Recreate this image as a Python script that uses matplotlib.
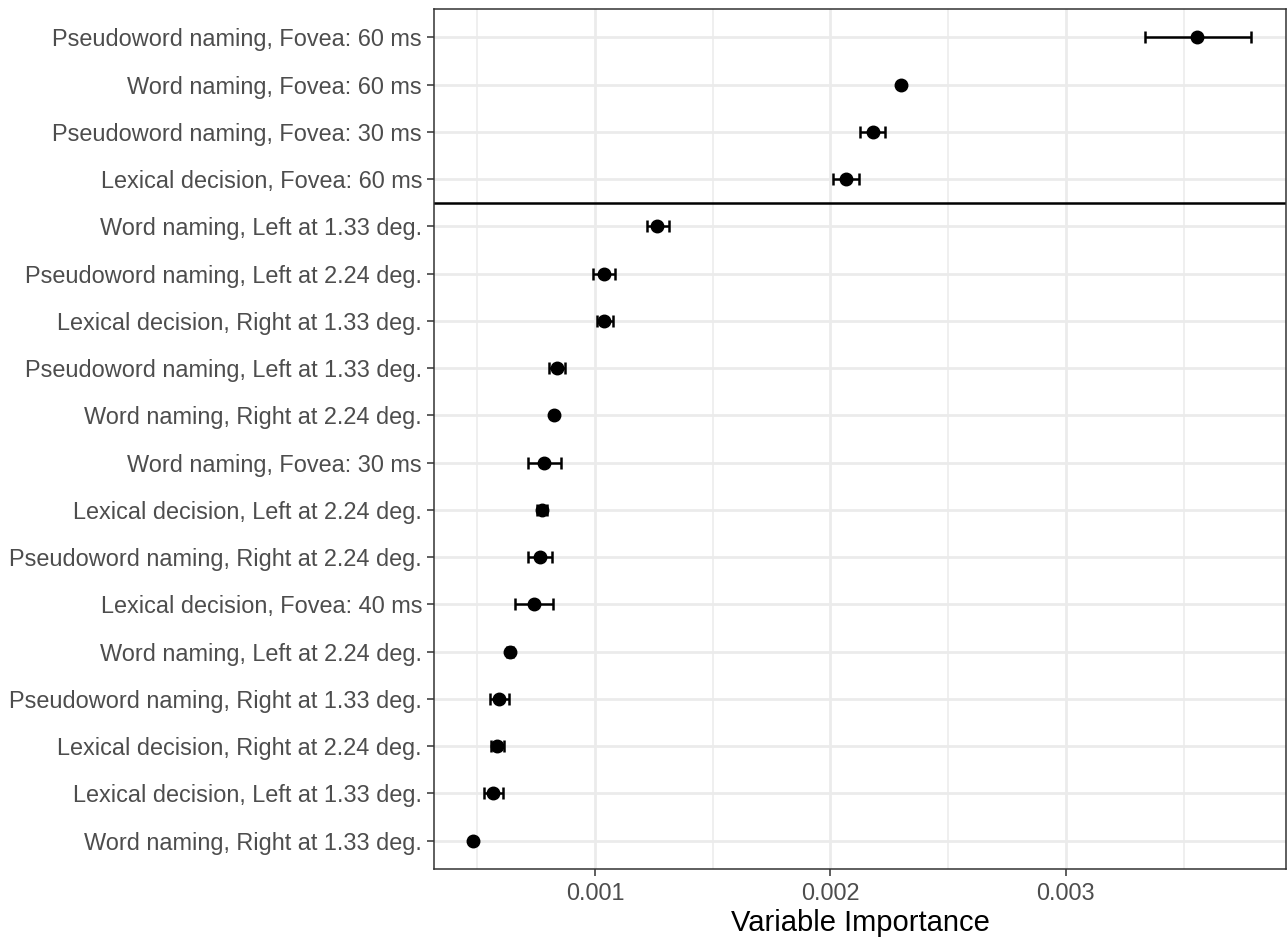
import numpy as np
import matplotlib.pyplot as plt

plt.rcParams['font.family'] = ['Liberation Sans', 'DejaVu Sans']

# variables, top to bottom
labels = [
    "Pseudoword naming, Fovea: 60 ms",
    "Word naming, Fovea: 60 ms",
    "Pseudoword naming, Fovea: 30 ms",
    "Lexical decision, Fovea: 60 ms",
    "Word naming, Left at 1.33 deg.",
    "Pseudoword naming, Left at 2.24 deg.",
    "Lexical decision, Right at 1.33 deg.",
    "Pseudoword naming, Left at 1.33 deg.",
    "Word naming, Right at 2.24 deg.",
    "Word naming, Fovea: 30 ms",
    "Lexical decision, Left at 2.24 deg.",
    "Pseudoword naming, Right at 2.24 deg.",
    "Lexical decision, Fovea: 40 ms",
    "Word naming, Left at 2.24 deg.",
    "Pseudoword naming, Right at 1.33 deg.",
    "Lexical decision, Right at 2.24 deg.",
    "Lexical decision, Left at 1.33 deg.",
    "Word naming, Right at 1.33 deg.",
]
importance = [0.003559, 0.002299, 0.002180, 0.002065, 0.001265, 0.001038,
              0.001040, 0.000837, 0.000827, 0.000785, 0.000776, 0.000765,
              0.000740, 0.000638, 0.000594, 0.000585, 0.000567, 0.000482]
lower = [0.003335, 0.002299, 0.002126, 0.002010, 0.001220, 0.000993,
         0.001007, 0.000803, 0.000827, 0.000715, 0.000755, 0.000717,
         0.000660, 0.000625, 0.000554, 0.000558, 0.000527, 0.000482]
upper = [0.003786, 0.002299, 0.002233, 0.002120, 0.001314, 0.001086,
         0.001075, 0.000871, 0.000827, 0.000854, 0.000797, 0.000817,
         0.000820, 0.000651, 0.000636, 0.000613, 0.000611, 0.000482]
n_top = 4  # fovea block above the separating line

imp = np.array(importance)
lo = np.array(lower)
hi = np.array(upper)
n = len(labels)
ypos = np.arange(n)[::-1]

fig = plt.figure(figsize=(12.88, 9.41), dpi=100)
ax = fig.add_axes([0.337, 0.0765, 0.6614, 0.9139])

# grid like theme_bw
for x in [0.0005, 0.0015, 0.0025, 0.0035]:
    ax.axvline(x, color='#EBEBEB', lw=1.1, zorder=0)
for x in [0.001, 0.002, 0.003]:
    ax.axvline(x, color='#EBEBEB', lw=2.0, zorder=0)
for y in ypos:
    ax.axhline(y, color='#EBEBEB', lw=2.0, zorder=0)

ax.errorbar(imp, ypos, xerr=[imp - lo, hi - imp], fmt='none', ecolor='black',
            elinewidth=1.8, capsize=4, capthick=1.8, zorder=2)
ax.plot(imp, ypos, 'o', color='black', ms=9, zorder=3)

ax.axhline(n - n_top - 0.5, color='black', lw=1.8, zorder=2)

ax.set_xlim(0.000316, 0.003935)
ax.set_ylim(-0.6, n - 0.4)
ax.set_yticks(ypos)
ax.set_yticklabels(labels)
ax.set_xticks([0.001, 0.002, 0.003])
ax.set_xticklabels(['0.001', '0.002', '0.003'])
ax.tick_params(axis='both', colors='#333333', labelcolor='#4D4D4D',
               labelsize=16.9, length=5, width=1.1)
ax.tick_params(axis='y', pad=3.6)
ax.tick_params(axis='x', pad=4)
ax.set_xlabel('Variable Importance', fontsize=21, color='black', labelpad=3)

for s in ax.spines.values():
    s.set_color('#333333')
    s.set_linewidth(1.1)

fig.savefig('out.png', dpi=100)
